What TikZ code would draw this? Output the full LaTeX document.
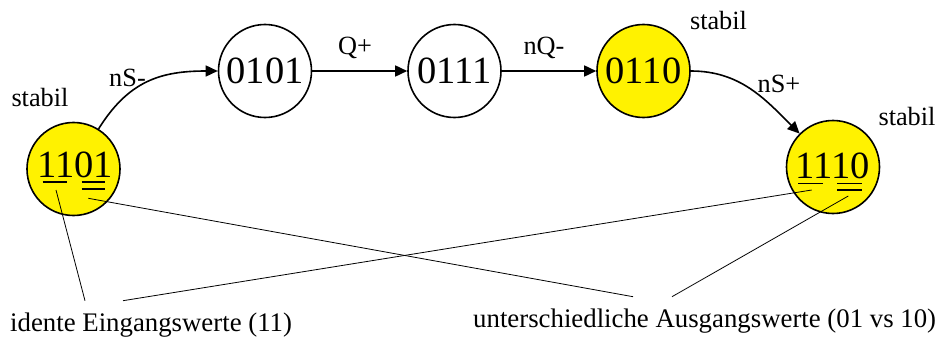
\documentclass[tikz,border=0pt]{standalone}
\usepackage{fontspec}
\setmainfont{Liberation Serif}
\usetikzlibrary{arrows.meta}
\tikzset{
  state/.style={circle, draw, line width=1.6pt, minimum size=93pt, inner sep=0pt},
  stable/.style={state, fill=yellow},
  code/.style={font=\fontsize{38.5}{40}\selectfont},
  digits/.style={code, inner sep=0pt},
  lbl/.style={font=\fontsize{26.3}{30}\selectfont, inner sep=0pt},
  expl/.style={font=\fontsize{26.8}{30}\selectfont, inner sep=0pt, anchor=base west},
  trans/.style={line width=1.6pt, -{Triangle[length=12pt,width=11pt]}},
  uline/.style={line width=1.9pt},
  note/.style={line width=0.8pt}
}
\begin{document}
\begin{tikzpicture}[x=1pt,y=1pt]
\useasboundingbox (0,0) rectangle (936,338);

% states
\node[stable] (s1101) at (73.5,169) {};
\node[state, code]  (s0101) at (265,267) {0101};
\node[state, code]  (s0111) at (454.5,267) {0111};
\node[stable, code] (s0110) at (643.5,267) {0110};
\node[stable] (s1110) at (833,171) {};

% underlined codes of the stable end states
\node[digits] (t1101) at (75,173) {1101};
\node[digits] (t1110) at (832.5,172.5) {1110};
\draw[uline] ([shift={(-32.3,-17)}]t1101.center) -- ++(24,0);
\draw[uline] ([shift={(6.7,-17)}]t1101.center) -- ++(23.3,0);
\draw[uline] ([shift={(6.7,-24)}]t1101.center) -- ++(23.3,0);
\draw[uline] ([shift={(-34.5,-18)}]t1110.center) -- ++(25,0);
\draw[uline] ([shift={(4.5,-18)}]t1110.center) -- ++(25,0);
\draw[uline] ([shift={(4.5,-24.5)}]t1110.center) -- ++(25,0);

% transitions
\draw[trans] (s1101) to[out=58,in=180,looseness=1.1] (s0101);
\draw[trans] (s0101) -- (s0111);
\draw[trans] (s0111) -- (s0110);
\draw[trans] (s0110.east) to[out=0,in=135] (s1110);

% transition labels
\node[lbl, anchor=base] (lnsm) at (127.5,251.3) {nS-};
\node[lbl, anchor=base] (lqp)  at (355,283) {Q+};
\node[lbl, anchor=base] (lnqm) at (544,283) {nQ-};
\node[lbl, anchor=base] (lnsp) at (779,246) {nS+};

% stability marks
\node[lbl, anchor=base] (st1) at (40,231.3) {stabil};
\node[lbl, anchor=base] (st2) at (718.5,308) {stabil};
\node[lbl, anchor=base] (st3) at (907,213) {stabil};

% explanations
\node[expl] (inp) at (10,6.5) {idente Eingangswerte (11)};
\node[expl] (outp) at (473,10.5) {unterschiedliche Ausgangswerte (01 vs 10)};

\coordinate (u1) at ([shift={(-19,-25)}]t1101.center);
\coordinate (u2) at ([shift={(13.3,-33.3)}]t1101.center);
\coordinate (u3) at ([shift={(-20.8,-24.5)}]t1110.center);
\coordinate (u4) at ([shift={(15.8,-30.5)}]t1110.center);
\coordinate (e1) at (85,37.3);
\coordinate (e3) at (123,37.3);
\coordinate (e2) at (633,41.3);
\coordinate (e4) at (672,41.3);

\draw[note] (u1) -- (e1);
\draw[note] (u3) -- (e3);
\draw[note] (u2) -- (e2);
\draw[note] (u4) -- (e4);
\end{tikzpicture}
\end{document}
